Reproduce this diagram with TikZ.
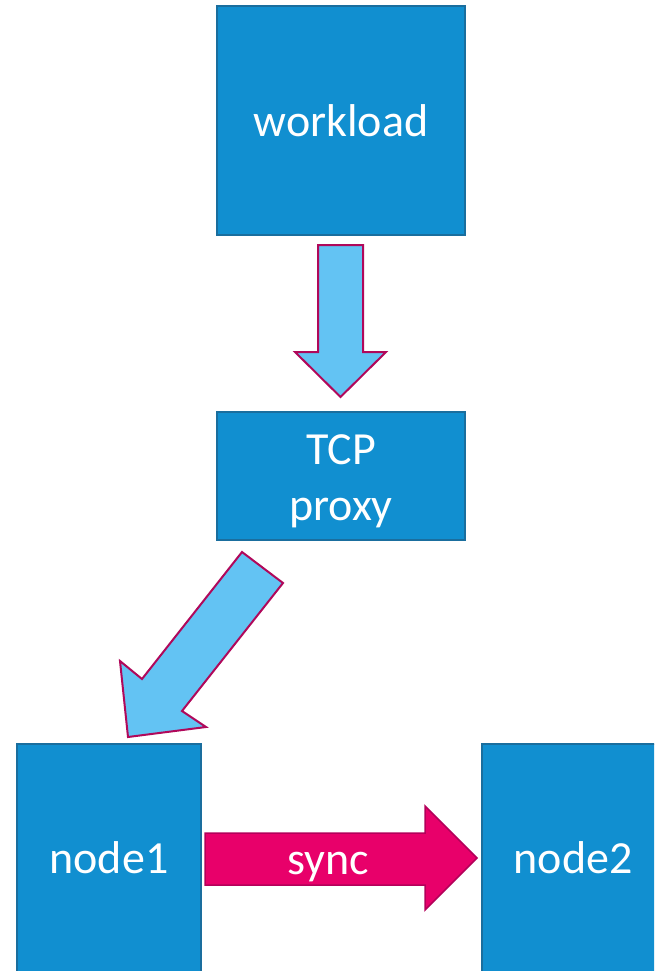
\documentclass[tikz,border=0pt]{standalone}
\usepackage{fontspec}
\setmainfont{Carlito}
\definecolor{boxfill}{HTML}{118FD0}
\definecolor{boxline}{HTML}{1A6E9E}
\definecolor{flowfill}{HTML}{63C3F3}
\definecolor{flowline}{HTML}{B0085A}
\definecolor{syncfill}{HTML}{E8006A}
\definecolor{syncline}{HTML}{B3005A}
\begin{document}
\begin{tikzpicture}[x=1pt,y=-1pt,
  unit/.style={draw=boxline, fill=boxfill, line width=2pt, text=white,
    font=\fontsize{46}{56}\selectfont, inner sep=0pt, align=center},
  flow/.style={draw=flowline, fill=flowfill, line width=2pt, line join=miter},
  syncarrow/.style={draw=syncline, fill=syncfill, line width=1.5pt, line join=miter},
  label/.style={text=white, font=\fontsize{46}{56}\selectfont, inner sep=0pt}]
\useasboundingbox (0,0) rectangle (654,971);
\clip (0,0) rectangle (654,971);

% boxes
\node[unit, minimum width=248pt, minimum height=229pt] (workload) at (341,120.5) {workload};
\node[unit, minimum width=248pt, minimum height=128pt] (proxy) at (341,476) {};
\node[label, align=center, yshift=-5.5pt] (proxytext) at (proxy.center) {TCP\\proxy};
\node[unit, minimum width=184pt, minimum height=228pt] (node1) at (109,858) {node1};
\node[unit, minimum width=182pt, minimum height=228pt] (node2) at (573,858) {node2};

% block arrow: workload -> proxy
\draw[flow] (318,245) -- (363,245) -- (363,352) -- (386,352) -- (340.5,397)
  -- (295,352) -- (318,352) -- cycle;

% block arrow: proxy -> node1
\draw[flow] (242,552) -- (283,583) -- (182,711) -- (206,727) -- (128,737)
  -- (120,661) -- (142,679) -- cycle;

% sync arrow: node1 -> node2
\draw[syncarrow] (205,833) -- (425,833) -- (425,806) -- (477,858) -- (425,910)
  -- (425,885) -- (205,885) -- cycle;
\node[label, anchor=base] (sync) at (328,874) {sync};
\end{tikzpicture}
\end{document}
